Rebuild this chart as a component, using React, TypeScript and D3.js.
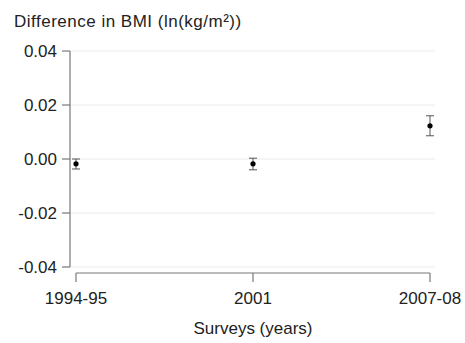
import React from "react";
import * as d3 from "d3";

const surveys = ["1994-95", "2001", "2007-08"];
const estimates = [-0.0018, -0.0018, 0.0123];
const lowerCI = [-0.0037, -0.0040, 0.0086];
const upperCI = [0.0000, 0.0003, 0.0160];
const yTicks = [-0.04, -0.02, 0.0, 0.02, 0.04];

export default function App() {
  const W = 465, H = 343;
  const x = d3.scalePoint<string>().domain(surveys).range([76, 430]);
  const y = d3.scaleLinear().domain([-0.04, 0.04]).range([267, 51]);
  const font = "'Liberation Sans', Arial, sans-serif";
  const axisColor = "#777";
  const fs = 17;
  const fmt = (t: number) => t.toFixed(2);
  return (
    <svg width={W} height={H} style={{ position: "absolute", left: 0, top: 0 }} fontFamily={font}>
      <rect width={W} height={H} fill="#fff" />
      <text x={14} y={27} fontSize={fs} letterSpacing={0.5} fill="#222">Difference in BMI (ln(kg/m²))</text>
      {yTicks.map((t) => (
        <g key={t}>
          <line x1={70} x2={435} y1={y(t)} y2={y(t)} stroke="#ececec" strokeWidth={1} />
          <line x1={62} x2={70} y1={y(t)} y2={y(t)} stroke={axisColor} strokeWidth={1.2} />
          <text x={57} y={y(t)} dy="0.36em" textAnchor="end" fontSize={fs} fill="#222">
            {fmt(t)}
          </text>
        </g>
      ))}
      <line x1={70} x2={70} y1={y(0.04)} y2={y(-0.04)} stroke={axisColor} strokeWidth={1.2} />
      <line x1={x(surveys[0])} x2={x(surveys[2])} y1={273} y2={273} stroke={axisColor} strokeWidth={1.2} />
      {surveys.map((s) => (
        <g key={s}>
          <line x1={x(s)} x2={x(s)} y1={273} y2={282} stroke={axisColor} strokeWidth={1.2} />
          <text x={x(s)} y={304} textAnchor="middle" fontSize={fs} fill="#222">{s}</text>
        </g>
      ))}
      <text x={253} y={334} textAnchor="middle" fontSize={fs} fill="#222">Surveys (years)</text>
      {surveys.map((s, i) => {
        const cx = x(s)!;
        return (
          <g key={"p" + s}>
            <line x1={cx} x2={cx} y1={y(upperCI[i])} y2={y(lowerCI[i])} stroke="#555" strokeWidth={1} />
            <line x1={cx - 4} x2={cx + 4} y1={y(upperCI[i])} y2={y(upperCI[i])} stroke="#555" strokeWidth={1} />
            <line x1={cx - 4} x2={cx + 4} y1={y(lowerCI[i])} y2={y(lowerCI[i])} stroke="#555" strokeWidth={1} />
            <circle cx={cx} cy={y(estimates[i])} r={2.6} fill="#000" />
          </g>
        );
      })}
    </svg>
  );
}
